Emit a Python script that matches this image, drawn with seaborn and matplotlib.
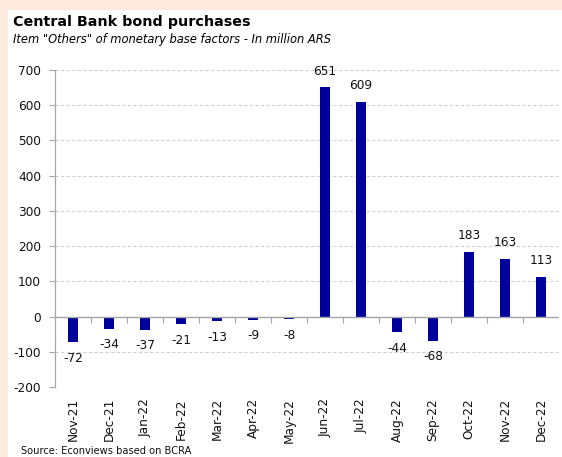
import matplotlib
matplotlib.use("Agg")
import matplotlib.pyplot as plt
from matplotlib.patches import Rectangle
import seaborn as sns
import pandas as pd

months = ["Nov-21", "Dec-21", "Jan-22", "Feb-22", "Mar-22", "Apr-22", "May-22",
          "Jun-22", "Jul-22", "Aug-22", "Sep-22", "Oct-22", "Nov-22", "Dec-22"]
purchases = [-72, -34, -37, -21, -13, -9, -8, 651, 609, -44, -68, 183, 163, 113]
y_ticks = [-200, -100, 0, 100, 200, 300, 400, 500, 600, 700]

title = "Central Bank bond purchases"
subtitle = 'Item "Others" of monetary base factors - In million ARS'
source = "Source: Econviews based on BCRA"

bar_color = "#00009A"
peach = "#FDEADC"
grid_grey = "#D0D0D0"
axis_grey = "#A6A6A6"

sns.set_theme(style="white")
plt.rcParams["font.family"] = ["DejaVu Sans"]

df = pd.DataFrame({"month": months, "value": purchases})

W, H = 562, 457
fig = plt.figure(figsize=(W / 100, H / 100), dpi=100)
fig.patch.set_facecolor(peach)
# white card leaving a peach strip on the top and left
fig.add_artist(Rectangle((8 / W, 0), 1, 1 - 10 / H, transform=fig.transFigure,
                         facecolor="white", edgecolor="none", zorder=0))

ax = fig.add_axes([55 / W, 1 - 387 / H, (559 - 55) / W, (387 - 70) / H])
ax.set_facecolor("white")

sns.barplot(data=df, x="month", y="value", color=bar_color, saturation=1,
            width=0.3, linewidth=0, ax=ax, zorder=3)
# make every bar 0.3 category wide, centred on its category
for i, patch in enumerate(ax.patches):
    patch.set_width(0.3)
    patch.set_x(i - 0.15)

ax.set_ylim(y_ticks[0], y_ticks[-1])
ax.set_xlim(-0.5, len(months) - 0.5)
ax.set_yticks(y_ticks)
ax.set_yticklabels([str(v) for v in y_ticks], fontsize=8.7, color="#111111")
ax.set_xticks(range(len(months)))
ax.set_xticklabels(months, rotation=90, fontsize=8.7, color="#111111")
ax.tick_params(axis="x", length=0, pad=8)
ax.tick_params(axis="y", length=4, width=0.8, color=axis_grey, pad=6, left=True)
ax.set_xlabel("")
ax.set_ylabel("")

for v in y_ticks:
    if v != 0:
        ax.axhline(v, color=grid_grey, lw=0.8, ls=(0, (3, 2)), zorder=1)
ax.axhline(0, color=axis_grey, lw=1.0, zorder=4)

for side in ["top", "right", "bottom"]:
    ax.spines[side].set_visible(False)
ax.spines["left"].set_color(axis_grey)
ax.spines["left"].set_linewidth(0.9)

# category boundary ticks hanging from the zero line
zero_frac = (0 - y_ticks[0]) / (y_ticks[-1] - y_ticks[0])
sec = ax.secondary_xaxis(zero_frac)
sec.set_xticks([i + 0.5 for i in range(len(months) - 1)])
sec.set_xticklabels([])
sec.tick_params(axis="x", length=4, width=0.8, color=axis_grey, direction="out")
for s in sec.spines.values():
    s.set_visible(False)

ax.bar_label(ax.containers[0], labels=[str(v) for v in purchases],
             padding=7, fontsize=8.7, color="#111111")

fig.text(13 / W, 1 - 22 / H, title, fontsize=10.3, fontweight="bold",
         va="center", ha="left", color="black")
fig.text(13 / W, 1 - 39 / H, subtitle, fontsize=8.3, fontstyle="italic",
         va="center", ha="left", color="black")
fig.text(21 / W, 1 - 451 / H, source, fontsize=7.1, va="center", ha="left",
         color="#111111")

fig.savefig("out.png", dpi=100, facecolor=fig.get_facecolor())
